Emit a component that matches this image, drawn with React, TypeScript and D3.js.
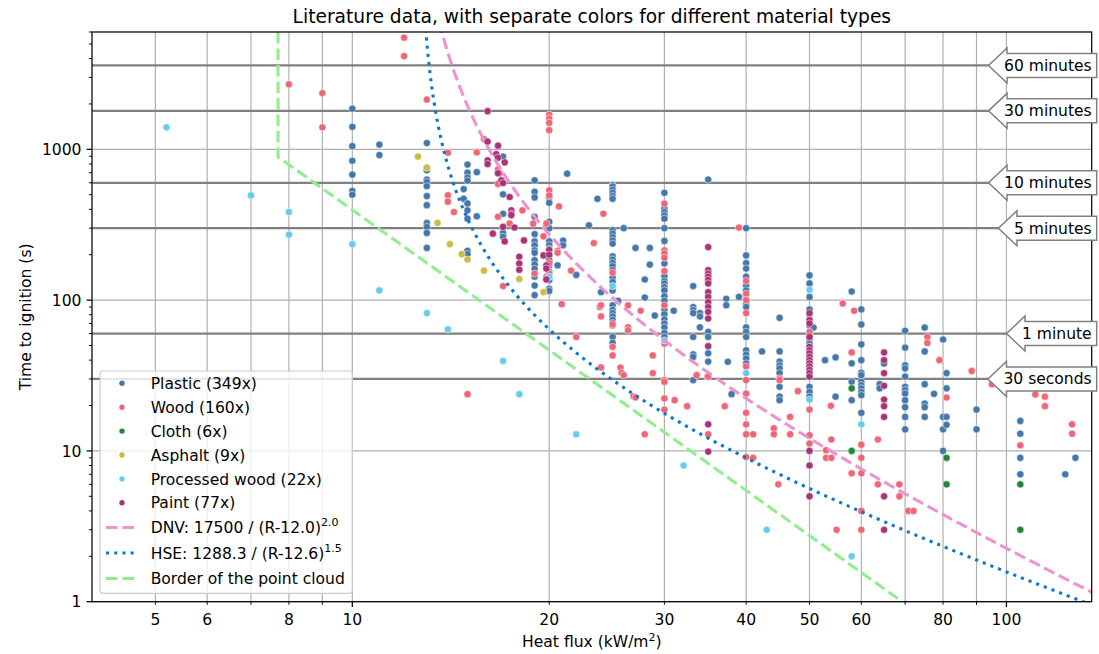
import React from "react";
import * as d3 from "d3";

// ---------- axes ----------
const X_DOMAIN: [number, number] = [4, 135];
const Y_DOMAIN: [number, number] = [1, 6000];
const X_TICK_LABELS = [5, 6, 8, 10, 20, 30, 40, 50, 60, 80, 100];
const X_MINOR = [5, 6, 7, 8, 9, 20, 30, 40, 50, 60, 70, 80, 90];
const X_MAJOR = [10, 100];
const Y_MAJOR = [1, 10, 100, 1000];

// ---------- reference times ----------
const THRESH_T = [3600, 1800, 600, 300, 60, 30];
const THRESH_LABELS = ["60 minutes", "30 minutes", "10 minutes", "5 minutes", "1 minute", "30 seconds"];

// ---------- model curves ----------
const DNV = { a: 17500, r0: 12.0, n: 2.0 };
const HSE = { a: 1288.3, r0: 12.6, n: 1.5 };
const BORDER: [number, number][] = [[7.7, 6000], [7.7, 890], [69.3, 1]];

// ---------- literature data: [heat flux, [ignition times...]] ----------
const plasticData: [number, number[]][] = [
  [10, [1860, 1410, 1050, 840, 680, 530, 500]],
  [11, [1075, 916]],
  [13, [1100, 756, 726, 630, 607, 569, 490, 426, 325, 306, 279, 222]],
  [14.8, [545, 470]],
  [15, [792, 700, 650, 620, 438, 394, 347, 212, 202]],
  [15.5, [706, 360]],
  [17, [895, 503, 374, 306, 279, 263]],
  [19, [623, 523, 480, 357, 274, 245, 231, 214, 206, 184, 172, 161, 143, 125, 108]],
  [20, [480, 442, 331, 300, 245, 231, 219, 200, 184, 170, 154, 136, 119, 115]],
  [20.6, [170]], [21, [248, 231]], [21.3, [690]], [22, [147]], [23, [313]], [23.7, [470]], [24, [113]],
  [25, [580, 567, 540, 515, 490, 470, 291, 276, 262, 249, 237, 195, 186, 177, 168, 158, 141, 132, 123, 116, 92.5, 86, 82, 78, 74, 70.5, 68, 57, 52]],
  [25.5, [99]], [26, [300]], [27.1, [222]], [28.5, [222, 172]], [28, [137, 104]], [29, [79]],
  [30, [515, 404, 384, 365, 347, 300, 247, 175, 144, 134, 129, 122, 116, 106, 99, 86.7, 80.6, 74.4, 70, 65.8, 60.6, 57]],
  [31, [85]], [33.2, [124, 90, 86, 82, 57, 43.7, 42, 29.5]], [34, [82, 78, 66]],
  [35, [630, 61.5, 57, 44.4, 39.1]],
  [37.3, [102, 92.5]], [37.5, [39]], [38, [23.8]], [39, [105]],
  [40, [300, 198, 176, 162, 143, 125, 116, 108, 100, 94, 90, 66, 61.5, 57, 46.5, 43.6, 41, 38, 24]],
  [42.3, [45.7]],
  [45, [76.3, 45.7, 39.1, 37, 35.3, 32.8, 29.5, 26.6, 22.9, 21.7]],
  [50, [146, 129, 105, 86.7, 80, 74, 68, 60, 55, 51.4, 31, 26.6, 24.6, 22.9]],
  [50.7, [65.8]], [52.8, [40]], [54.8, [41.7, 22.9]],
  [58, [114, 38.1, 28.7, 21.7]],
  [60, [86.7, 69, 50.9, 40, 33, 31.8, 28.7, 27.3, 26, 24.6, 23.4, 17.9]],
  [64, [27.7, 26]], [65, [38]],
  [70, [62.6, 48.4, 37, 35.3, 31.1, 26.6, 25.3, 24, 21.7, 19.5, 16.8, 13.9]],
  [75, [65.8, 45.7, 27.7, 20.6, 19.5, 16.8]], [77.5, [23.9]],
  [80, [54.8, 16.8, 13.9, 10]], [81, [32.8, 26, 16.8, 14.9]],
  [90, [18.8, 13.9]],
  [105, [15.8, 13, 9, 7]],
  [123, [7]], [127.5, [9]],
];

const woodData: [number, number[]][] = [
  [8, [2700]], [9, [2360, 1400]], [12, [5500, 4150]], [13, [2140]],
  [14, [950, 496, 450]], [14.3, [384]], [15, [23.8]], [15.5, [955]], [15.9, [1170]], [16.1, [800]],
  [16.7, [736, 590, 357]], [16.8, [694]], [17, [124]], [17.4, [322]], [18.2, [394]], [18.9, [322]],
  [19.8, [322, 143]], [19.6, [265]], [19, [150]],
  [20, [1700, 1600, 1500, 1340, 535, 495, 176, 150]],
  [20.6, [212, 206]], [20.7, [418]], [20.9, [94]], [21.6, [157]], [22, [57]], [23.4, [239]], [23.9, [90]], [24.2, [374]],
  [24, [92.5, 78, 35.8]], [25, [152, 69, 49, 43]], [25.7, [35.7]], [25.8, [33]], [26, [31.8]],
  [26.4, [92.5, 66, 63]], [26.9, [23]], [27.1, [22.6]], [27.6, [85]], [28, [12.9]], [28.8, [43, 32.8]],
  [30, [436, 214, 204, 191, 156, 92.5, 51.5, 29.5, 28.7, 22.3, 18.8]],
  [31.1, [21.7]], [32.5, [19.8]], [33.6, [31.8]], [34.9, [31]],
  [35, [31.1, 12.9]], [37.1, [19.8]], [39, [303]],
  [40, [134, 110, 100, 82, 36.3, 29.5, 24, 17.9, 15, 12.9, 9.1]],
  [41, [12.9, 9]], [44.1, [14.1, 12.9]], [44.8, [6]], [45, [30.3, 29.5]], [46.7, [16.8, 12.9]], [48, [24.9]],
  [50, [61.6, 49, 18.8, 12.7, 11.2]],
  [53, [10.1, 9]], [54, [11.9, 9]], [53.9, [19.9]], [55, [3]], [56.2, [95]], [58.5, [85]],
  [58, [45, 7.1]], [60, [11, 9, 7.1, 4, 3]],
  [63.6, [11.9, 6]], [68.6, [6, 5]], [70.8, [4]], [72.1, [4]],
  [75.7, [57, 52]], [79, [40]], [81, [22.6]], [88.5, [33.9]], [95, [27.7]],
  [105, [10.9]], [110.7, [23.7]], [114.5, [22.9, 19.8]], [126, [15, 13]],
];

const clothData: [number, number[]][] = [[58, [26, 10]], [81, [9, 6]], [105, [6, 3]]];

const asphaltData: [number, number[]][] = [
  [12.6, [895]], [13, [755]], [13.5, [325]], [14.1, [235]], [14.7, [202]], [15, [186]], [15.9, [157]], [18, [138]], [19.6, [113]],
];

const processedWoodData: [number, number[]][] = [
  [5.2, [1400]], [7, [495]], [8, [384, 272]], [10, [235]], [11, [116]], [13, [82]], [14, [64]], [17, [39.5]],
  [18, [23.8]], [20, [143]], [22, [12.9]], [25, [124]], [30, [54]], [32.1, [8]], [40, [32.8]], [43, [3]],
  [50, [117, 21.9]], [58, [2]], [60, [15]],
];

const paintData: [number, number[]][] = [
  [16.1, [1790, 1125, 845, 800]], [16.6, [930]], [16.7, [1057, 880, 694]], [17.1, [820, 245]], [16.9, [623]],
  [17, [598, 306]], [17.4, [483]], [17.5, [394, 374, 366]], [17.7, [303]], [16.4, [276]], [18.3, [249]],
  [18, [194, 175, 159]], [19.6, [198]], [19.8, [170, 162, 137]], [20, [215, 200]],
  [35, [225, 158, 150, 143, 136, 129, 113, 105, 97, 90, 83.5, 75.5, 49.5, 15, 9.9]],
  [50, [82, 73.7, 70, 57, 49, 46.5, 44.4, 42.1, 40, 38.1, 36.3, 34.5, 32.8, 31.1, 10, 8, 5]],
  [65, [45, 40, 32.8, 27, 21.9, 19.8, 16.8, 5, 3]],
];

const SERIES_NAMES = ["Plastic (349x)", "Wood (160x)", "Cloth (6x)", "Asphalt (9x)", "Processed wood (22x)", "Paint (77x)"];
const SERIES_COLORS = ["#4477AA", "#EE6677", "#228833", "#CCBB44", "#66CCEE", "#AA3377"];
const SERIES_DATA = [plasticData, woodData, clothData, asphaltData, processedWoodData, paintData];

const FONT = "'DejaVu Sans', 'Liberation Sans', sans-serif";
const FS = 15.56;
const PINK = "#ec93d0";
const BLUE_LINE = "#0a78d0";
const GREEN_LINE = "#90ee90";

function measure(text: string, size: number): number {
  try {
    const c = document.createElement("canvas");
    const ctx = c.getContext("2d");
    if (ctx) {
      ctx.font = `${size}px "DejaVu Sans"`;
      return ctx.measureText(text).width;
    }
  } catch (e) {}
  return text.length * size * 0.56;
}

function modelCurve(m: { a: number; r0: number; n: number }, rStart: number): [number, number][] {
  const pts: [number, number][] = [];
  const steps = 400;
  const l0 = Math.log(rStart), l1 = Math.log(X_DOMAIN[1] * 1.02);
  for (let i = 0; i <= steps; i++) {
    const r = Math.exp(l0 + ((l1 - l0) * i) / steps);
    pts.push([r, m.a / Math.pow(r - m.r0, m.n)]);
  }
  return pts;
}

export default function App() {
  const L = 92, T = 32, R = 1091.7, B = 601.7;
  const x = d3.scaleLog().domain(X_DOMAIN).range([L, R]);
  const y = d3.scaleLog().domain(Y_DOMAIN).range([B, T]);
  const line = d3.line<[number, number]>().x((d) => x(d[0])).y((d) => y(d[1]));

  const yMinor: number[] = [];
  for (let k = 0; k < 4; k++) for (let m = 2; m <= 9; m++) {
    const v = m * Math.pow(10, k);
    if (v <= Y_DOMAIN[1]) yMinor.push(v);
  }

  const dnv = modelCurve(DNV, 13.4);
  const hse = modelCurve(HSE, 12.85);

  const legendRows = [383.3, 407.2, 431.1, 455.0, 478.9, 502.8, 527.5, 553, 578.5];

  return (
    <svg width={1099} height={654} style={{ position: "absolute", left: 0, top: 0, background: "#fff" }} fontFamily={FONT}>
      <defs>
        <clipPath id="plotclip">
          <rect x={L} y={T} width={R - L} height={B - T} />
        </clipPath>
      </defs>
      <rect x={0} y={0} width={1099} height={654} fill="#fff" />
      {/* grid */}
      <g stroke="#b0b0b0" strokeWidth={1.2}>
        {[...X_MINOR, ...X_MAJOR].map((v) => (
          <line key={"gx" + v} x1={x(v)} x2={x(v)} y1={T} y2={B} />
        ))}
        {Y_MAJOR.map((v) => (
          <line key={"gy" + v} x1={L} x2={R} y1={y(v)} y2={y(v)} />
        ))}
      </g>
      {/* threshold lines */}
      <g stroke="#808080" strokeWidth={2.2}>
        {THRESH_T.map((t) => (
          <line key={"th" + t} x1={L} x2={R} y1={y(t)} y2={y(t)} />
        ))}
      </g>
      {/* points */}
      <g clipPath="url(#plotclip)">
        {SERIES_DATA.map((ser, si) => (
          <g key={"s" + si} fill={SERIES_COLORS[si]} stroke="#fff" strokeWidth={0.5}>
            {ser.flatMap(([r, ts]) =>
              ts.map((t, j) => <circle key={r + "_" + j} cx={x(r)} cy={y(t)} r={3.6} />)
            )}
          </g>
        ))}
      </g>
      {/* model curves */}
      <g clipPath="url(#plotclip)" fill="none">
        <path d={line(BORDER) || ""} stroke={GREEN_LINE} strokeWidth={3.1} strokeDasharray="11.5 5" />
        <path d={line(dnv) || ""} stroke={PINK} strokeWidth={3.1} strokeDasharray="11.5 5" />
        <path d={line(hse) || ""} stroke={BLUE_LINE} strokeWidth={3.1} strokeDasharray="3.1 5.1" />
      </g>
      {/* spines */}
      <rect x={L} y={T} width={R - L} height={B - T} fill="none" stroke="#000" strokeWidth={1.24} />
      {/* ticks */}
      <g stroke="#000">
        {X_MAJOR.map((v) => (
          <line key={"xt" + v} x1={x(v)} x2={x(v)} y1={B} y2={B + 5.4} strokeWidth={1.24} />
        ))}
        {X_MINOR.map((v) => (
          <line key={"xm" + v} x1={x(v)} x2={x(v)} y1={B} y2={B + 3.1} strokeWidth={0.93} />
        ))}
        {Y_MAJOR.map((v) => (
          <line key={"yt" + v} x1={L - 5.4} x2={L} y1={y(v)} y2={y(v)} strokeWidth={1.24} />
        ))}
        {yMinor.map((v) => (
          <line key={"ym" + v} x1={L - 3.1} x2={L} y1={y(v)} y2={y(v)} strokeWidth={0.93} />
        ))}
      </g>
      <g fontSize={FS} fill="#000">
        {X_TICK_LABELS.map((v) => (
          <text key={"xl" + v} x={x(v)} y={625} textAnchor="middle">{v}</text>
        ))}
        {Y_MAJOR.map((v) => (
          <text key={"yl" + v} x={81.5} y={y(v) + 5.6} textAnchor="end">{v}</text>
        ))}
      </g>
      {/* axis labels and title */}
      <text x={(L + R) / 2} y={647} textAnchor="middle" fontSize={FS}>
        Heat flux (kW/m<tspan dy={-6} fontSize={11}>2</tspan><tspan dy={6}>)</tspan>
      </text>
      <text transform={`translate(30.5,${(T + B) / 2}) rotate(-90)`} textAnchor="middle" fontSize={FS}>
        Time to ignition (s)
      </text>
      <text x={(L + R) / 2} y={23} textAnchor="middle" fontSize={18.67}>
        Literature data, with separate colors for different material types
      </text>
      {/* arrow annotations */}
      <g>
        {THRESH_T.map((t, i) => {
          const label = THRESH_LABELS[i];
          const w = measure(label, FS);
          const cy = y(t);
          const textRight = 1091.7;
          const base = textRight - w + 3;
          const tip = base - 18.5;
          const right = 1096.7;
          const d = `M${right},${cy - 12} L${base},${cy - 12} L${base},${cy - 17.5} L${tip},${cy} L${base},${cy + 17.5} L${base},${cy + 12} L${right},${cy + 12} Z`;
          return (
            <g key={"ann" + t}>
              <path d={d} fill="#fff" stroke="#808080" strokeWidth={1.5} />
              <text x={textRight} y={cy + 5.5} textAnchor="end" fontSize={FS}>{label}</text>
            </g>
          );
        })}
      </g>
      {/* legend */}
      <g>
        <rect x={100} y={371} width={252.3} height={222.3} rx={3} fill="#fff" fillOpacity={0.8} stroke="#cccccc" strokeWidth={1.2} />
        {SERIES_NAMES.map((nm, i) => (
          <g key={"lg" + i}>
            <circle cx={122} cy={legendRows[i]} r={2.7} fill={SERIES_COLORS[i]} />
            <text x={150.7} y={legendRows[i] + 5.6} fontSize={FS}>{nm}</text>
          </g>
        ))}
        <line x1={106} x2={134} y1={legendRows[6]} y2={legendRows[6]} stroke={PINK} strokeWidth={3.1} strokeDasharray="11.5 5" />
        <text x={150.7} y={legendRows[6] + 5.6} fontSize={FS}>
          DNV: 17500 / (R-12.0)<tspan dy={-7} fontSize={11}>2.0</tspan>
        </text>
        <line x1={106} x2={134} y1={legendRows[7]} y2={legendRows[7]} stroke={BLUE_LINE} strokeWidth={3.1} strokeDasharray="3.1 5.1" />
        <text x={150.7} y={legendRows[7] + 5.6} fontSize={FS}>
          HSE: 1288.3 / (R-12.6)<tspan dy={-7} fontSize={11}>1.5</tspan>
        </text>
        <line x1={106} x2={134} y1={legendRows[8]} y2={legendRows[8]} stroke={GREEN_LINE} strokeWidth={3.1} strokeDasharray="11.5 5" />
        <text x={150.7} y={legendRows[8] + 5.6} fontSize={FS}>Border of the point cloud</text>
      </g>
    </svg>
  );
}
